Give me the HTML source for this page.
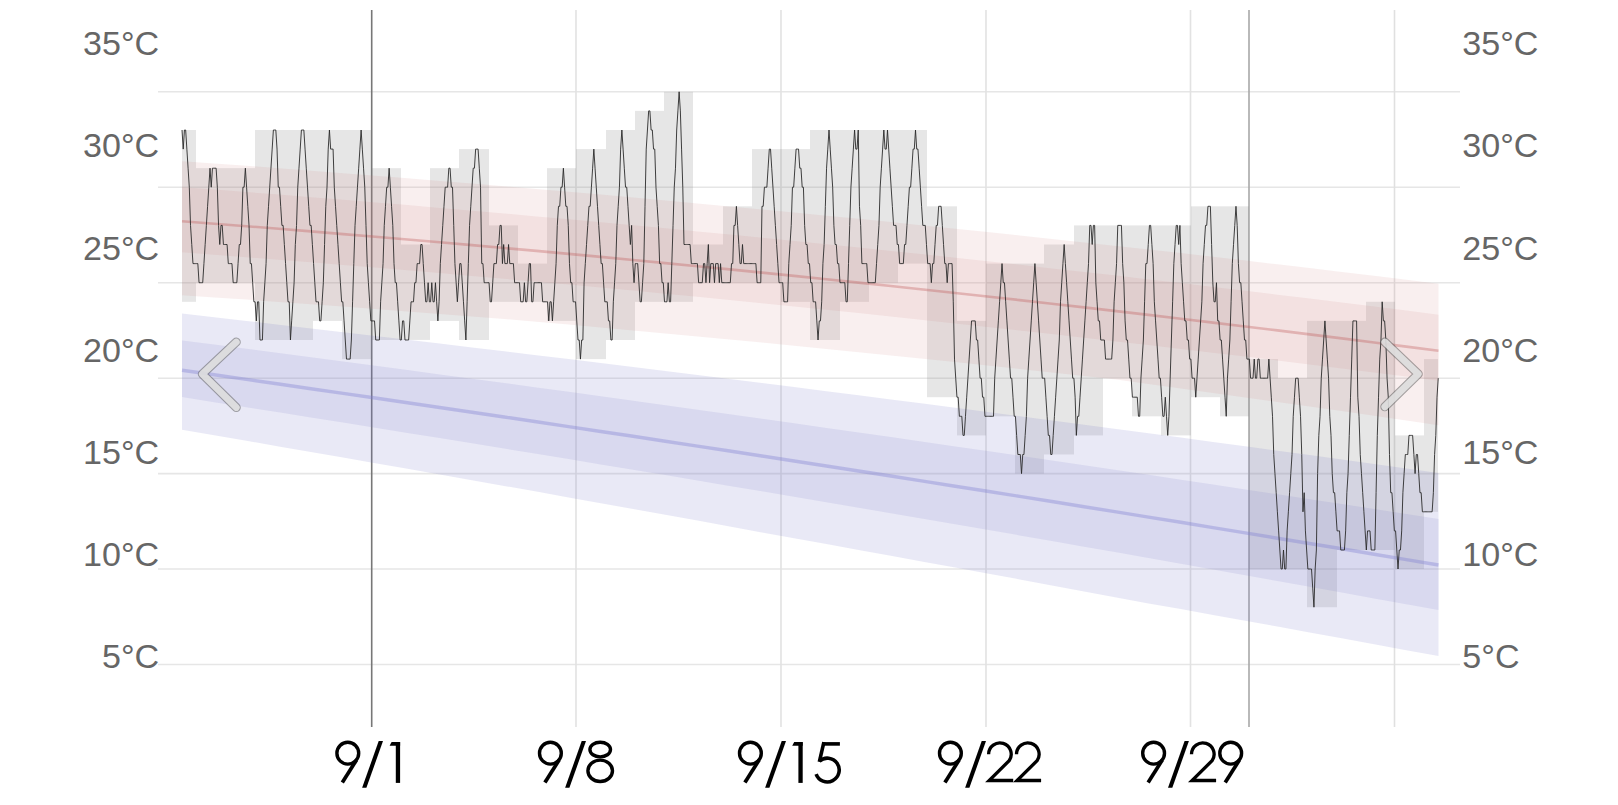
<!DOCTYPE html>
<html><head><meta charset="utf-8"><style>
html,body{margin:0;padding:0;background:#fff;width:1618px;height:805px;overflow:hidden}
svg{display:block}
.yl{font-family:"Liberation Sans",sans-serif;font-size:34.1px;fill:#666}
</style></head><body>
<svg width="1618" height="805" viewBox="0 0 1618 805">
<line x1="158" y1="91.8" x2="1460" y2="91.8" stroke="#e6e6e6" stroke-width="1.6"/>
<line x1="158" y1="187.2" x2="1460" y2="187.2" stroke="#e6e6e6" stroke-width="1.6"/>
<line x1="158" y1="282.7" x2="1460" y2="282.7" stroke="#e6e6e6" stroke-width="1.6"/>
<line x1="158" y1="378.2" x2="1460" y2="378.2" stroke="#e6e6e6" stroke-width="1.6"/>
<line x1="158" y1="473.6" x2="1460" y2="473.6" stroke="#e6e6e6" stroke-width="1.6"/>
<line x1="158" y1="569.0" x2="1460" y2="569.0" stroke="#e6e6e6" stroke-width="1.6"/>
<line x1="158" y1="664.5" x2="1460" y2="664.5" stroke="#e6e6e6" stroke-width="1.6"/>
<line x1="576" y1="10" x2="576" y2="727" stroke="#e2e2e2" stroke-width="1.6"/>
<line x1="781" y1="10" x2="781" y2="727" stroke="#e2e2e2" stroke-width="1.6"/>
<line x1="986" y1="10" x2="986" y2="727" stroke="#e2e2e2" stroke-width="1.6"/>
<line x1="1190.5" y1="10" x2="1190.5" y2="727" stroke="#e2e2e2" stroke-width="1.6"/>
<line x1="1394.5" y1="10" x2="1394.5" y2="727" stroke="#e0e0e0" stroke-width="1.6"/>
<line x1="371.7" y1="10" x2="371.7" y2="727" stroke="#777" stroke-width="1.6"/>
<line x1="1249" y1="10" x2="1249" y2="727" stroke="#a8a8a8" stroke-width="1.6"/>
<rect x="182" y="130.0" width="14" height="171.8" fill="rgba(128,128,128,0.2)"/>
<rect x="196" y="168.2" width="29" height="114.5" fill="rgba(128,128,128,0.2)"/>
<rect x="225" y="168.2" width="30" height="114.5" fill="rgba(128,128,128,0.2)"/>
<rect x="255" y="130.0" width="29" height="210.0" fill="rgba(128,128,128,0.2)"/>
<rect x="284" y="130.0" width="29" height="210.0" fill="rgba(128,128,128,0.2)"/>
<rect x="313" y="130.0" width="29" height="190.9" fill="rgba(128,128,128,0.2)"/>
<rect x="342" y="130.0" width="30" height="229.1" fill="rgba(128,128,128,0.2)"/>
<rect x="372" y="168.2" width="29" height="171.8" fill="rgba(128,128,128,0.2)"/>
<rect x="401" y="244.5" width="29" height="95.4" fill="rgba(128,128,128,0.2)"/>
<rect x="430" y="168.2" width="29" height="152.7" fill="rgba(128,128,128,0.2)"/>
<rect x="459" y="149.1" width="30" height="190.9" fill="rgba(128,128,128,0.2)"/>
<rect x="489" y="225.4" width="29" height="76.4" fill="rgba(128,128,128,0.2)"/>
<rect x="518" y="263.6" width="29" height="38.2" fill="rgba(128,128,128,0.2)"/>
<rect x="547" y="168.2" width="29" height="152.7" fill="rgba(128,128,128,0.2)"/>
<rect x="576" y="149.1" width="30" height="210.0" fill="rgba(128,128,128,0.2)"/>
<rect x="606" y="130.0" width="29" height="210.0" fill="rgba(128,128,128,0.2)"/>
<rect x="635" y="110.9" width="29" height="190.9" fill="rgba(128,128,128,0.2)"/>
<rect x="664" y="91.8" width="29" height="210.0" fill="rgba(128,128,128,0.2)"/>
<rect x="693" y="244.5" width="30" height="38.2" fill="rgba(128,128,128,0.2)"/>
<rect x="723" y="206.3" width="29" height="76.4" fill="rgba(128,128,128,0.2)"/>
<rect x="752" y="149.1" width="29" height="133.6" fill="rgba(128,128,128,0.2)"/>
<rect x="781" y="149.1" width="29" height="152.7" fill="rgba(128,128,128,0.2)"/>
<rect x="810" y="130.0" width="30" height="210.0" fill="rgba(128,128,128,0.2)"/>
<rect x="840" y="130.0" width="29" height="171.8" fill="rgba(128,128,128,0.2)"/>
<rect x="869" y="130.0" width="29" height="152.7" fill="rgba(128,128,128,0.2)"/>
<rect x="898" y="130.0" width="29" height="133.6" fill="rgba(128,128,128,0.2)"/>
<rect x="927" y="206.3" width="30" height="190.9" fill="rgba(128,128,128,0.2)"/>
<rect x="957" y="320.9" width="29" height="114.5" fill="rgba(128,128,128,0.2)"/>
<rect x="986" y="263.6" width="29" height="152.7" fill="rgba(128,128,128,0.2)"/>
<rect x="1015" y="263.6" width="29" height="210.0" fill="rgba(128,128,128,0.2)"/>
<rect x="1044" y="244.5" width="30" height="210.0" fill="rgba(128,128,128,0.2)"/>
<rect x="1074" y="225.4" width="29" height="210.0" fill="rgba(128,128,128,0.2)"/>
<rect x="1103" y="225.4" width="29" height="152.7" fill="rgba(128,128,128,0.2)"/>
<rect x="1132" y="225.4" width="29" height="190.9" fill="rgba(128,128,128,0.2)"/>
<rect x="1161" y="225.4" width="30" height="210.0" fill="rgba(128,128,128,0.2)"/>
<rect x="1191" y="206.3" width="29" height="190.9" fill="rgba(128,128,128,0.2)"/>
<rect x="1220" y="206.3" width="29" height="210.0" fill="rgba(128,128,128,0.2)"/>
<rect x="1249" y="359.1" width="29" height="210.0" fill="rgba(128,128,128,0.2)"/>
<rect x="1278" y="378.2" width="29" height="190.9" fill="rgba(128,128,128,0.2)"/>
<rect x="1307" y="320.9" width="30" height="286.3" fill="rgba(128,128,128,0.2)"/>
<rect x="1337" y="320.9" width="29" height="229.1" fill="rgba(128,128,128,0.2)"/>
<rect x="1366" y="301.8" width="29" height="248.2" fill="rgba(128,128,128,0.2)"/>
<rect x="1395" y="435.4" width="29" height="133.6" fill="rgba(128,128,128,0.2)"/>
<rect x="1424" y="359.1" width="14" height="152.7" fill="rgba(128,128,128,0.2)"/>
<polygon points="182.0,313.6 214.2,317.3 246.4,321.0 278.7,324.7 310.9,328.5 343.1,332.2 375.3,336.0 407.5,339.8 439.7,343.6 472.0,347.5 504.2,351.3 536.4,355.2 568.6,359.1 600.8,363.1 633.1,367.0 665.3,371.0 697.5,375.0 729.7,379.0 761.9,383.0 794.1,387.1 826.4,391.2 858.6,395.3 890.8,399.4 923.0,403.6 955.2,407.8 987.4,412.0 1019.7,416.2 1051.9,420.4 1084.1,424.7 1116.3,429.0 1148.5,433.3 1180.8,437.6 1213.0,441.9 1245.2,446.3 1277.4,450.7 1309.6,455.1 1341.8,459.6 1374.1,464.0 1406.3,468.5 1438.5,473.0 1438.5,656.1 1406.3,650.2 1374.1,644.2 1341.8,638.3 1309.6,632.4 1277.4,626.6 1245.2,620.7 1213.0,614.9 1180.8,609.1 1148.5,603.4 1116.3,597.4 1084.1,591.4 1051.9,585.4 1019.7,579.4 987.4,573.5 955.2,567.6 923.0,561.7 890.8,555.8 858.6,550.0 826.4,544.1 794.1,538.3 761.9,532.4 729.7,526.5 697.5,520.6 665.3,514.8 633.1,509.0 600.8,503.2 568.6,497.4 536.4,491.6 504.2,485.9 472.0,480.2 439.7,474.5 407.5,468.8 375.3,463.2 343.1,457.5 310.9,451.9 278.7,446.4 246.4,440.8 214.2,435.3 182.0,429.7" fill="rgba(120,120,200,0.16)"/>
<polygon points="182.0,340.4 214.2,344.6 246.4,348.8 278.7,353.0 310.9,357.2 343.1,361.5 375.3,365.7 407.5,370.0 439.7,374.4 472.0,378.7 504.2,383.1 536.4,387.4 568.6,391.8 600.8,396.3 633.1,400.7 665.3,405.2 697.5,409.7 729.7,414.2 761.9,418.7 794.1,423.3 826.4,427.9 858.6,432.5 890.8,437.1 923.0,441.7 955.2,446.4 987.4,451.1 1019.7,455.8 1051.9,460.5 1084.1,465.3 1116.3,470.0 1148.5,474.8 1180.8,479.7 1213.0,484.5 1245.2,489.4 1277.4,494.3 1309.6,499.2 1341.8,504.1 1374.1,509.0 1406.3,514.0 1438.5,519.0 1438.5,610.1 1406.3,604.2 1374.1,598.4 1341.8,592.6 1309.6,586.7 1277.4,581.0 1245.2,575.2 1213.0,569.4 1180.8,563.7 1148.5,558.0 1116.3,552.3 1084.1,546.7 1051.9,541.0 1019.7,535.4 987.4,529.8 955.2,524.3 923.0,518.7 890.8,513.2 858.6,507.7 826.4,502.2 794.1,496.7 761.9,491.3 729.7,485.9 697.5,480.5 665.3,475.1 633.1,469.8 600.8,464.4 568.6,459.1 536.4,453.8 504.2,448.6 472.0,443.3 439.7,438.1 407.5,432.9 375.3,427.7 343.1,422.6 310.9,417.5 278.7,412.3 246.4,407.3 214.2,402.2 182.0,397.1" fill="rgba(120,120,200,0.14)"/>
<path d="M182.0,370.2 L214.2,374.8 L246.4,379.4 L278.7,384.0 L310.9,388.7 L343.1,393.4 L375.3,398.0 L407.5,402.7 L439.7,407.5 L472.0,412.2 L504.2,417.0 L536.4,421.8 L568.6,426.6 L600.8,431.5 L633.1,436.3 L665.3,441.2 L697.5,446.1 L729.7,451.0 L761.9,456.0 L794.1,461.0 L826.4,466.0 L858.6,471.0 L890.8,476.0 L923.0,481.1 L955.2,486.2 L987.4,491.3 L1019.7,496.4 L1051.9,501.5 L1084.1,506.7 L1116.3,511.9 L1148.5,517.1 L1180.8,522.3 L1213.0,527.6 L1245.2,532.9 L1277.4,538.2 L1309.6,543.5 L1341.8,548.8 L1374.1,554.2 L1406.3,559.6 L1438.5,565.0" fill="none" stroke="rgba(130,130,210,0.38)" stroke-width="3.4"/>
<polygon points="182.0,161.2 214.2,163.5 246.4,165.8 278.7,168.2 310.9,170.7 343.1,173.2 375.3,175.7 407.5,178.3 439.7,180.9 472.0,183.5 504.2,186.2 536.4,189.0 568.6,191.8 600.8,194.6 633.1,197.5 665.3,200.4 697.5,203.4 729.7,206.4 761.9,209.4 794.1,212.5 826.4,215.7 858.6,218.8 890.8,222.1 923.0,225.4 955.2,228.7 987.4,232.0 1019.7,235.4 1051.9,238.9 1084.1,242.4 1116.3,245.9 1148.5,249.5 1180.8,253.1 1213.0,256.8 1245.2,260.5 1277.4,264.3 1309.6,268.1 1341.8,271.9 1374.1,275.8 1406.3,279.8 1438.5,283.8 1438.5,425.3 1406.3,420.5 1374.1,415.8 1341.8,411.1 1309.6,406.5 1277.4,401.9 1245.2,397.4 1213.0,392.9 1180.8,388.4 1148.5,384.0 1116.3,379.6 1084.1,376.0 1051.9,372.5 1019.7,369.0 987.4,365.5 955.2,362.1 923.0,358.8 890.8,355.4 858.6,352.2 826.4,348.9 794.1,345.7 761.9,342.6 729.7,339.5 697.5,336.4 665.3,333.4 633.1,330.4 600.8,327.5 568.6,324.6 536.4,321.8 504.2,319.0 472.0,316.4 439.7,313.9 407.5,311.4 375.3,308.9 343.1,306.5 310.9,304.2 278.7,301.9 246.4,299.6 214.2,297.4 182.0,295.2" fill="rgba(205,135,135,0.13)"/>
<polygon points="182.0,187.2 214.2,189.6 246.4,192.1 278.7,194.6 310.9,197.2 343.1,199.8 375.3,202.5 407.5,205.1 439.7,207.9 472.0,210.7 504.2,213.5 536.4,216.4 568.6,219.3 600.8,222.3 633.1,225.3 665.3,228.3 697.5,231.4 729.7,234.5 761.9,237.7 794.1,241.0 826.4,244.2 858.6,247.5 890.8,250.9 923.0,254.3 955.2,257.7 987.4,261.2 1019.7,264.8 1051.9,268.4 1084.1,272.0 1116.3,275.6 1148.5,279.4 1180.8,283.1 1213.0,286.9 1245.2,290.8 1277.4,294.7 1309.6,298.6 1341.8,302.6 1374.1,306.6 1406.3,310.6 1438.5,314.8 1438.5,380.8 1406.3,376.6 1374.1,372.5 1341.8,368.5 1309.6,364.5 1277.4,360.5 1245.2,356.6 1213.0,352.7 1180.8,348.9 1148.5,345.1 1116.3,341.4 1084.1,337.7 1051.9,334.0 1019.7,330.4 987.4,326.9 955.2,323.4 923.0,319.9 890.8,316.5 858.6,313.1 826.4,309.7 794.1,306.4 761.9,303.2 729.7,300.0 697.5,296.8 665.3,293.7 633.1,290.6 600.8,287.6 568.6,284.6 536.4,281.7 504.2,278.8 472.0,275.9 439.7,273.1 407.5,270.3 375.3,267.6 343.1,264.9 310.9,262.3 278.7,259.7 246.4,257.2 214.2,254.7 182.0,252.2" fill="rgba(205,135,135,0.13)"/>
<path d="M182.0,221.2 L214.2,223.7 L246.4,226.2 L278.7,228.8 L310.9,231.4 L343.1,234.1 L375.3,236.8 L407.5,239.5 L439.7,242.3 L472.0,245.1 L504.2,248.0 L536.4,250.9 L568.6,253.9 L600.8,256.9 L633.1,260.0 L665.3,263.1 L697.5,266.2 L729.7,269.4 L761.9,272.6 L794.1,275.9 L826.4,279.2 L858.6,282.6 L890.8,286.0 L923.0,289.5 L955.2,293.0 L987.4,296.5 L1019.7,300.1 L1051.9,303.7 L1084.1,307.4 L1116.3,311.1 L1148.5,314.9 L1180.8,318.7 L1213.0,322.6 L1245.2,326.5 L1277.4,330.4 L1309.6,334.4 L1341.8,338.4 L1374.1,342.5 L1406.3,346.6 L1438.5,350.8" fill="none" stroke="rgba(195,95,95,0.36)" stroke-width="2.6"/>
<path d="M182.00,130.0 L183.22,149.1 L184.44,130.0 L185.66,130.0 L186.87,149.1 L188.09,168.2 L189.31,187.2 L190.53,225.4 L191.75,244.5 L192.97,263.6 L194.18,263.6 L195.40,263.6 L196.62,263.6 L197.84,263.6 L199.06,282.7 L200.28,282.7 L201.50,282.7 L202.71,282.7 L203.93,263.6 L205.15,244.5 L206.37,225.4 L207.59,206.3 L208.81,187.2 L210.02,168.2 L211.24,187.2 L212.46,168.2 L213.68,168.2 L214.90,168.2 L216.12,168.2 L217.34,187.2 L218.55,225.4 L219.77,244.5 L220.99,225.4 L222.21,225.4 L223.43,244.5 L224.65,244.5 L225.86,244.5 L227.08,244.5 L228.30,263.6 L229.52,263.6 L230.74,263.6 L231.96,263.6 L233.18,282.7 L234.39,282.7 L235.61,282.7 L236.83,282.7 L238.05,263.6 L239.27,244.5 L240.49,244.5 L241.70,225.4 L242.92,187.2 L244.14,187.2 L245.36,168.2 L246.58,187.2 L247.80,206.3 L249.02,225.4 L250.23,263.6 L251.45,263.6 L252.67,282.7 L253.89,301.8 L255.11,301.8 L256.33,320.9 L257.54,301.8 L258.76,301.8 L259.98,340.0 L261.20,340.0 L262.42,340.0 L263.64,301.8 L264.86,282.7 L266.07,263.6 L267.29,225.4 L268.51,206.3 L269.73,187.2 L270.95,168.2 L272.17,149.1 L273.38,130.0 L274.60,130.0 L275.82,130.0 L277.04,149.1 L278.26,187.2 L279.48,187.2 L280.70,206.3 L281.91,225.4 L283.13,225.4 L284.35,244.5 L285.57,263.6 L286.79,282.7 L288.01,301.8 L289.22,301.8 L290.44,340.0 L291.66,320.9 L292.88,301.8 L294.10,282.7 L295.32,244.5 L296.54,225.4 L297.75,187.2 L298.97,168.2 L300.19,149.1 L301.41,130.0 L302.63,130.0 L303.85,130.0 L305.06,149.1 L306.28,168.2 L307.50,187.2 L308.72,206.3 L309.94,225.4 L311.16,225.4 L312.38,244.5 L313.59,263.6 L314.81,282.7 L316.03,301.8 L317.25,301.8 L318.47,301.8 L319.69,320.9 L320.90,320.9 L322.12,301.8 L323.34,282.7 L324.56,244.5 L325.78,206.3 L327.00,187.2 L328.21,149.1 L329.43,130.0 L330.65,149.1 L331.87,149.1 L333.09,149.1 L334.31,187.2 L335.53,206.3 L336.74,225.4 L337.96,244.5 L339.18,263.6 L340.40,282.7 L341.62,301.8 L342.84,301.8 L344.05,320.9 L345.27,340.0 L346.49,359.1 L347.71,359.1 L348.93,359.1 L350.15,359.1 L351.37,340.0 L352.58,301.8 L353.80,263.6 L355.02,225.4 L356.24,206.3 L357.46,187.2 L358.68,168.2 L359.89,149.1 L361.11,130.0 L362.33,149.1 L363.55,168.2 L364.77,187.2 L365.99,225.4 L367.21,263.6 L368.42,282.7 L369.64,301.8 L370.86,320.9 L372.08,320.9 L373.30,320.9 L374.52,320.9 L375.73,340.0 L376.95,340.0 L378.17,340.0 L379.39,340.0 L380.61,301.8 L381.83,282.7 L383.05,263.6 L384.26,225.4 L385.48,206.3 L386.70,187.2 L387.92,187.2 L389.14,168.2 L390.36,187.2 L391.57,206.3 L392.79,225.4 L394.01,263.6 L395.23,282.7 L396.45,282.7 L397.67,301.8 L398.89,320.9 L400.10,340.0 L401.32,340.0 L402.54,320.9 L403.76,320.9 L404.98,340.0 L406.20,340.0 L407.41,340.0 L408.63,340.0 L409.85,320.9 L411.07,301.8 L412.29,301.8 L413.51,301.8 L414.73,282.7 L415.94,282.7 L417.16,263.6 L418.38,263.6 L419.60,263.6 L420.82,244.5 L422.04,244.5 L423.25,263.6 L424.47,282.7 L425.69,301.8 L426.91,301.8 L428.13,282.7 L429.35,301.8 L430.57,301.8 L431.78,282.7 L433.00,301.8 L434.22,301.8 L435.44,282.7 L436.66,301.8 L437.88,320.9 L439.09,301.8 L440.31,263.6 L441.53,244.5 L442.75,225.4 L443.97,206.3 L445.19,187.2 L446.41,187.2 L447.62,187.2 L448.84,168.2 L450.06,168.2 L451.28,187.2 L452.50,187.2 L453.72,225.4 L454.93,263.6 L456.15,282.7 L457.37,301.8 L458.59,282.7 L459.81,263.6 L461.03,263.6 L462.25,282.7 L463.46,301.8 L464.68,320.9 L465.90,340.0 L467.12,301.8 L468.34,263.6 L469.56,225.4 L470.77,206.3 L471.99,187.2 L473.21,168.2 L474.43,168.2 L475.65,149.1 L476.87,149.1 L478.09,149.1 L479.30,168.2 L480.52,187.2 L481.74,263.6 L482.96,263.6 L484.18,282.7 L485.40,282.7 L486.61,282.7 L487.83,282.7 L489.05,282.7 L490.27,301.8 L491.49,301.8 L492.71,282.7 L493.93,263.6 L495.14,263.6 L496.36,263.6 L497.58,244.5 L498.80,244.5 L500.02,225.4 L501.24,225.4 L502.45,263.6 L503.67,244.5 L504.89,263.6 L506.11,263.6 L507.33,263.6 L508.55,244.5 L509.77,263.6 L510.98,263.6 L512.20,263.6 L513.42,263.6 L514.64,282.7 L515.86,282.7 L517.08,282.7 L518.29,282.7 L519.51,282.7 L520.73,301.8 L521.95,301.8 L523.17,301.8 L524.39,282.7 L525.61,301.8 L526.82,301.8 L528.04,282.7 L529.26,263.6 L530.48,263.6 L531.70,301.8 L532.92,301.8 L534.13,282.7 L535.35,282.7 L536.57,282.7 L537.79,282.7 L539.01,282.7 L540.23,282.7 L541.45,282.7 L542.66,301.8 L543.88,301.8 L545.10,301.8 L546.32,301.8 L547.54,301.8 L548.76,320.9 L549.97,301.8 L551.19,301.8 L552.41,320.9 L553.63,301.8 L554.85,282.7 L556.07,263.6 L557.29,225.4 L558.50,206.3 L559.72,206.3 L560.94,187.2 L562.16,187.2 L563.38,168.2 L564.60,187.2 L565.81,206.3 L567.03,206.3 L568.25,225.4 L569.47,263.6 L570.69,282.7 L571.91,282.7 L573.13,301.8 L574.34,301.8 L575.56,301.8 L576.78,320.9 L578.00,340.0 L579.22,340.0 L580.44,359.1 L581.65,340.0 L582.87,340.0 L584.09,282.7 L585.31,263.6 L586.53,244.5 L587.75,225.4 L588.97,206.3 L590.18,206.3 L591.40,187.2 L592.62,168.2 L593.84,149.1 L595.06,168.2 L596.28,187.2 L597.49,206.3 L598.71,225.4 L599.93,244.5 L601.15,263.6 L602.37,263.6 L603.59,282.7 L604.81,301.8 L606.02,301.8 L607.24,301.8 L608.46,320.9 L609.68,320.9 L610.90,340.0 L612.12,340.0 L613.33,301.8 L614.55,282.7 L615.77,263.6 L616.99,225.4 L618.21,206.3 L619.43,187.2 L620.64,149.1 L621.86,130.0 L623.08,149.1 L624.30,168.2 L625.52,187.2 L626.74,187.2 L627.96,206.3 L629.17,225.4 L630.39,244.5 L631.61,225.4 L632.83,263.6 L634.05,282.7 L635.27,263.6 L636.48,263.6 L637.70,263.6 L638.92,282.7 L640.14,301.8 L641.36,301.8 L642.58,282.7 L643.80,263.6 L645.01,206.3 L646.23,149.1 L647.45,130.0 L648.67,110.9 L649.89,110.9 L651.11,130.0 L652.32,130.0 L653.54,149.1 L654.76,149.1 L655.98,187.2 L657.20,206.3 L658.42,225.4 L659.64,263.6 L660.85,263.6 L662.07,282.7 L663.29,282.7 L664.51,301.8 L665.73,301.8 L666.95,301.8 L668.16,282.7 L669.38,301.8 L670.60,301.8 L671.82,263.6 L673.04,225.4 L674.26,187.2 L675.48,168.2 L676.69,130.0 L677.91,110.9 L679.13,91.8 L680.35,110.9 L681.57,149.1 L682.79,187.2 L684.00,244.5 L685.22,244.5 L686.44,244.5 L687.66,244.5 L688.88,244.5 L690.10,244.5 L691.32,263.6 L692.53,263.6 L693.75,263.6 L694.97,263.6 L696.19,263.6 L697.41,263.6 L698.63,282.7 L699.84,282.7 L701.06,282.7 L702.28,282.7 L703.50,263.6 L704.72,263.6 L705.94,282.7 L707.16,263.6 L708.37,244.5 L709.59,282.7 L710.81,263.6 L712.03,263.6 L713.25,263.6 L714.47,282.7 L715.68,263.6 L716.90,263.6 L718.12,263.6 L719.34,282.7 L720.56,263.6 L721.78,282.7 L723.00,282.7 L724.21,282.7 L725.43,282.7 L726.65,282.7 L727.87,282.7 L729.09,282.7 L730.31,282.7 L731.52,263.6 L732.74,263.6 L733.96,225.4 L735.18,225.4 L736.40,206.3 L737.62,225.4 L738.84,244.5 L740.05,263.6 L741.27,263.6 L742.49,244.5 L743.71,263.6 L744.93,263.6 L746.15,263.6 L747.36,263.6 L748.58,263.6 L749.80,263.6 L751.02,263.6 L752.24,263.6 L753.46,263.6 L754.68,263.6 L755.89,263.6 L757.11,282.7 L758.33,282.7 L759.55,282.7 L760.77,282.7 L761.99,206.3 L763.20,206.3 L764.42,187.2 L765.64,187.2 L766.86,187.2 L768.08,168.2 L769.30,149.1 L770.52,149.1 L771.73,168.2 L772.95,187.2 L774.17,206.3 L775.39,225.4 L776.61,244.5 L777.83,263.6 L779.04,282.7 L780.26,282.7 L781.48,282.7 L782.70,282.7 L783.92,301.8 L785.14,301.8 L786.36,301.8 L787.57,301.8 L788.79,263.6 L790.01,244.5 L791.23,225.4 L792.45,187.2 L793.67,187.2 L794.88,168.2 L796.10,149.1 L797.32,149.1 L798.54,149.1 L799.76,168.2 L800.98,168.2 L802.20,187.2 L803.41,187.2 L804.63,225.4 L805.85,244.5 L807.07,244.5 L808.29,263.6 L809.51,263.6 L810.72,282.7 L811.94,282.7 L813.16,301.8 L814.38,301.8 L815.60,301.8 L816.82,320.9 L818.04,340.0 L819.25,320.9 L820.47,320.9 L821.69,301.8 L822.91,263.6 L824.13,244.5 L825.35,206.3 L826.56,168.2 L827.78,149.1 L829.00,130.0 L830.22,149.1 L831.44,168.2 L832.66,187.2 L833.88,225.4 L835.09,244.5 L836.31,244.5 L837.53,263.6 L838.75,263.6 L839.97,282.7 L841.19,282.7 L842.40,282.7 L843.62,282.7 L844.84,282.7 L846.06,301.8 L847.28,301.8 L848.50,263.6 L849.72,225.4 L850.93,187.2 L852.15,168.2 L853.37,149.1 L854.59,130.0 L855.81,149.1 L857.03,149.1 L858.24,130.0 L859.46,206.3 L860.68,225.4 L861.90,263.6 L863.12,263.6 L864.34,263.6 L865.56,263.6 L866.77,263.6 L867.99,282.7 L869.21,282.7 L870.43,282.7 L871.65,282.7 L872.87,282.7 L874.08,282.7 L875.30,282.7 L876.52,263.6 L877.74,244.5 L878.96,225.4 L880.18,187.2 L881.40,168.2 L882.61,149.1 L883.83,130.0 L885.05,149.1 L886.27,149.1 L887.49,130.0 L888.71,149.1 L889.92,168.2 L891.14,187.2 L892.36,206.3 L893.58,225.4 L894.80,225.4 L896.02,225.4 L897.24,244.5 L898.45,244.5 L899.67,263.6 L900.89,263.6 L902.11,263.6 L903.33,263.6 L904.55,244.5 L905.76,244.5 L906.98,225.4 L908.20,206.3 L909.42,187.2 L910.64,187.2 L911.86,168.2 L913.07,149.1 L914.29,149.1 L915.51,130.0 L916.73,149.1 L917.95,149.1 L919.17,168.2 L920.39,187.2 L921.60,206.3 L922.82,225.4 L924.04,225.4 L925.26,225.4 L926.48,244.5 L927.70,263.6 L928.91,263.6 L930.13,263.6 L931.35,282.7 L932.57,263.6 L933.79,263.6 L935.01,244.5 L936.23,225.4 L937.44,225.4 L938.66,206.3 L939.88,206.3 L941.10,206.3 L942.32,225.4 L943.54,244.5 L944.75,263.6 L945.97,263.6 L947.19,282.7 L948.41,263.6 L949.63,263.6 L950.85,263.6 L952.07,263.6 L953.28,301.8 L954.50,359.1 L955.72,378.2 L956.94,397.2 L958.16,397.2 L959.38,416.3 L960.59,416.3 L961.81,416.3 L963.03,435.4 L964.25,435.4 L965.47,416.3 L966.69,397.2 L967.91,378.2 L969.12,359.1 L970.34,340.0 L971.56,320.9 L972.78,320.9 L974.00,320.9 L975.22,320.9 L976.43,340.0 L977.65,340.0 L978.87,359.1 L980.09,378.2 L981.31,378.2 L982.53,397.2 L983.75,397.2 L984.96,416.3 L986.18,416.3 L987.40,416.3 L988.62,416.3 L989.84,416.3 L991.06,416.3 L992.27,416.3 L993.49,416.3 L994.71,378.2 L995.93,359.1 L997.15,340.0 L998.37,320.9 L999.59,301.8 L1000.80,282.7 L1002.02,263.6 L1003.24,282.7 L1004.46,282.7 L1005.68,301.8 L1006.90,320.9 L1008.11,340.0 L1009.33,359.1 L1010.55,378.2 L1011.77,378.2 L1012.99,397.2 L1014.21,416.3 L1015.43,416.3 L1016.64,435.4 L1017.86,454.5 L1019.08,454.5 L1020.30,454.5 L1021.52,473.6 L1022.74,454.5 L1023.95,454.5 L1025.17,435.4 L1026.39,416.3 L1027.61,378.2 L1028.83,359.1 L1030.05,340.0 L1031.27,320.9 L1032.48,301.8 L1033.70,282.7 L1034.92,263.6 L1036.14,282.7 L1037.36,301.8 L1038.58,320.9 L1039.79,340.0 L1041.01,359.1 L1042.23,378.2 L1043.45,378.2 L1044.67,378.2 L1045.89,397.2 L1047.11,416.3 L1048.32,435.4 L1049.54,435.4 L1050.76,454.5 L1051.98,454.5 L1053.20,435.4 L1054.42,416.3 L1055.63,397.2 L1056.85,378.2 L1058.07,359.1 L1059.29,340.0 L1060.51,301.8 L1061.73,282.7 L1062.95,263.6 L1064.16,244.5 L1065.38,263.6 L1066.60,282.7 L1067.82,301.8 L1069.04,320.9 L1070.26,340.0 L1071.47,359.1 L1072.69,378.2 L1073.91,378.2 L1075.13,397.2 L1076.35,435.4 L1077.57,416.3 L1078.79,416.3 L1080.00,397.2 L1081.22,378.2 L1082.44,359.1 L1083.66,340.0 L1084.88,320.9 L1086.10,301.8 L1087.31,282.7 L1088.53,263.6 L1089.75,225.4 L1090.97,225.4 L1092.19,244.5 L1093.41,225.4 L1094.63,225.4 L1095.84,282.7 L1097.06,301.8 L1098.28,320.9 L1099.50,320.9 L1100.72,340.0 L1101.94,340.0 L1103.15,340.0 L1104.37,340.0 L1105.59,359.1 L1106.81,359.1 L1108.03,359.1 L1109.25,359.1 L1110.47,359.1 L1111.68,359.1 L1112.90,340.0 L1114.12,301.8 L1115.34,282.7 L1116.56,263.6 L1117.78,225.4 L1118.99,225.4 L1120.21,225.4 L1121.43,225.4 L1122.65,263.6 L1123.87,282.7 L1125.09,320.9 L1126.31,340.0 L1127.52,340.0 L1128.74,359.1 L1129.96,378.2 L1131.18,378.2 L1132.40,397.2 L1133.62,397.2 L1134.83,397.2 L1136.05,397.2 L1137.27,397.2 L1138.49,416.3 L1139.71,416.3 L1140.93,378.2 L1142.15,359.1 L1143.36,340.0 L1144.58,301.8 L1145.80,263.6 L1147.02,263.6 L1148.24,244.5 L1149.46,225.4 L1150.67,225.4 L1151.89,244.5 L1153.11,263.6 L1154.33,301.8 L1155.55,320.9 L1156.77,340.0 L1157.99,359.1 L1159.20,378.2 L1160.42,378.2 L1161.64,397.2 L1162.86,416.3 L1164.08,416.3 L1165.30,397.2 L1166.51,416.3 L1167.73,435.4 L1168.95,416.3 L1170.17,378.2 L1171.39,340.0 L1172.61,301.8 L1173.83,263.6 L1175.04,244.5 L1176.26,225.4 L1177.48,225.4 L1178.70,244.5 L1179.92,225.4 L1181.14,263.6 L1182.35,282.7 L1183.57,301.8 L1184.79,320.9 L1186.01,320.9 L1187.23,340.0 L1188.45,340.0 L1189.67,359.1 L1190.88,359.1 L1192.10,378.2 L1193.32,378.2 L1194.54,378.2 L1195.76,397.2 L1196.98,378.2 L1198.19,359.1 L1199.41,340.0 L1200.63,320.9 L1201.85,301.8 L1203.07,263.6 L1204.29,244.5 L1205.50,225.4 L1206.72,225.4 L1207.94,206.3 L1209.16,206.3 L1210.38,206.3 L1211.60,244.5 L1212.82,282.7 L1214.03,301.8 L1215.25,301.8 L1216.47,282.7 L1217.69,320.9 L1218.91,320.9 L1220.13,340.0 L1221.34,340.0 L1222.56,359.1 L1223.78,378.2 L1225.00,397.2 L1226.22,416.3 L1227.44,378.2 L1228.66,359.1 L1229.87,340.0 L1231.09,301.8 L1232.31,263.6 L1233.53,244.5 L1234.75,225.4 L1235.97,206.3 L1237.18,225.4 L1238.40,263.6 L1239.62,282.7 L1240.84,282.7 L1242.06,301.8 L1243.28,320.9 L1244.50,340.0 L1245.71,340.0 L1246.93,359.1 L1248.15,359.1 L1249.37,359.1 L1250.59,378.2 L1251.81,378.2 L1253.02,378.2 L1254.24,359.1 L1255.46,378.2 L1256.68,378.2 L1257.90,359.1 L1259.12,359.1 L1260.34,378.2 L1261.55,378.2 L1262.77,378.2 L1263.99,378.2 L1265.21,378.2 L1266.43,378.2 L1267.65,378.2 L1268.86,359.1 L1270.08,378.2 L1271.30,397.2 L1272.52,416.3 L1273.74,454.5 L1274.96,473.6 L1276.18,492.7 L1277.39,511.8 L1278.61,530.9 L1279.83,550.0 L1281.05,569.0 L1282.27,569.0 L1283.49,550.0 L1284.70,569.0 L1285.92,569.0 L1287.14,530.9 L1288.36,511.8 L1289.58,492.7 L1290.80,473.6 L1292.02,454.5 L1293.23,416.3 L1294.45,397.2 L1295.67,378.2 L1296.89,378.2 L1298.11,378.2 L1299.33,397.2 L1300.54,416.3 L1301.76,454.5 L1302.98,511.8 L1304.20,492.7 L1305.42,530.9 L1306.64,550.0 L1307.86,569.0 L1309.07,569.0 L1310.29,569.0 L1311.51,569.0 L1312.73,588.1 L1313.95,607.2 L1315.17,569.0 L1316.38,550.0 L1317.60,473.6 L1318.82,435.4 L1320.04,416.3 L1321.26,378.2 L1322.48,359.1 L1323.70,340.0 L1324.91,320.9 L1326.13,340.0 L1327.35,359.1 L1328.57,378.2 L1329.79,416.3 L1331.01,435.4 L1332.22,473.6 L1333.44,492.7 L1334.66,492.7 L1335.88,511.8 L1337.10,530.9 L1338.32,530.9 L1339.54,530.9 L1340.75,550.0 L1341.97,550.0 L1343.19,550.0 L1344.41,550.0 L1345.63,530.9 L1346.85,492.7 L1348.06,473.6 L1349.28,435.4 L1350.50,397.2 L1351.72,359.1 L1352.94,320.9 L1354.16,320.9 L1355.38,320.9 L1356.59,320.9 L1357.81,397.2 L1359.03,416.3 L1360.25,454.5 L1361.47,473.6 L1362.69,492.7 L1363.90,511.8 L1365.12,530.9 L1366.34,550.0 L1367.56,530.9 L1368.78,530.9 L1370.00,530.9 L1371.22,550.0 L1372.43,550.0 L1373.65,550.0 L1374.87,550.0 L1376.09,492.7 L1377.31,435.4 L1378.53,397.2 L1379.74,359.1 L1380.96,340.0 L1382.18,301.8 L1383.40,320.9 L1384.62,320.9 L1385.84,340.0 L1387.06,378.2 L1388.27,397.2 L1389.49,454.5 L1390.71,492.7 L1391.93,492.7 L1393.15,511.8 L1394.37,530.9 L1395.58,530.9 L1396.80,550.0 L1398.02,569.0 L1399.24,550.0 L1400.46,550.0 L1401.68,530.9 L1402.90,492.7 L1404.11,473.6 L1405.33,454.5 L1406.55,454.5 L1407.77,454.5 L1408.99,435.4 L1410.21,435.4 L1411.42,435.4 L1412.64,435.4 L1413.86,454.5 L1415.08,473.6 L1416.30,454.5 L1417.52,454.5 L1418.74,473.6 L1419.95,492.7 L1421.17,492.7 L1422.39,511.8 L1423.61,511.8 L1424.83,511.8 L1426.05,511.8 L1427.26,511.8 L1428.48,511.8 L1429.70,511.8 L1430.92,511.8 L1432.14,511.8 L1433.36,492.7 L1434.58,454.5 L1435.79,435.4 L1437.01,397.2 L1438.23,378.2" fill="none" stroke="#2a2a2a" stroke-width="0.9"/>
<path d="M236.3,342 L202.3,374 L236.3,407.5" fill="none" stroke="rgba(95,95,95,0.55)" stroke-width="9.0" stroke-linecap="round" stroke-linejoin="round"/><path d="M236.3,342 L202.3,374 L236.3,407.5" fill="none" stroke="rgba(238,238,238,0.8)" stroke-width="6.8" stroke-linecap="round" stroke-linejoin="round"/>
<path d="M1384.8,342 L1418.3,374 L1384.8,406.8" fill="none" stroke="rgba(95,95,95,0.55)" stroke-width="9.0" stroke-linecap="round" stroke-linejoin="round"/><path d="M1384.8,342 L1418.3,374 L1384.8,406.8" fill="none" stroke="rgba(238,238,238,0.8)" stroke-width="6.8" stroke-linecap="round" stroke-linejoin="round"/>
<text x="159.2" y="55.2" text-anchor="end" class="yl">35°C</text>
<text x="1462.3" y="55.2" class="yl">35°C</text>
<text x="159.2" y="157.4" text-anchor="end" class="yl">30°C</text>
<text x="1462.3" y="157.4" class="yl">30°C</text>
<text x="159.2" y="259.6" text-anchor="end" class="yl">25°C</text>
<text x="1462.3" y="259.6" class="yl">25°C</text>
<text x="159.2" y="361.8" text-anchor="end" class="yl">20°C</text>
<text x="1462.3" y="361.8" class="yl">20°C</text>
<text x="159.2" y="464.0" text-anchor="end" class="yl">15°C</text>
<text x="1462.3" y="464.0" class="yl">15°C</text>
<text x="159.2" y="566.2" text-anchor="end" class="yl">10°C</text>
<text x="1462.3" y="566.2" class="yl">10°C</text>
<text x="159.2" y="668.4" text-anchor="end" class="yl">5°C</text>
<text x="1462.3" y="668.4" class="yl">5°C</text>
<circle cx="347.80" cy="753.2" r="10.9" fill="none" stroke="#000" stroke-width="3.4"/><path d="M342.30,782.5 L356.50,760.0" stroke="#000" stroke-width="3.7" fill="none"/>
<polygon points="362.10,787.8 366.40,787.8 383.00,741.1 378.70,741.1" fill="#000"/>
<polygon points="389.60,745.8 391.60,742.1 400.10,742.1 400.10,745.8" fill="#000"/><rect x="395.80" y="742.1" width="4.3" height="40.8" fill="#000"/>
<circle cx="550.40" cy="753.2" r="10.9" fill="none" stroke="#000" stroke-width="3.4"/><path d="M544.90,782.5 L559.10,760.0" stroke="#000" stroke-width="3.7" fill="none"/>
<polygon points="565.10,787.8 569.40,787.8 586.00,741.1 581.70,741.1" fill="#000"/>
<ellipse cx="600.20" cy="749.6" rx="10.3" ry="7.3" fill="none" stroke="#000" stroke-width="3.4"/><ellipse cx="600.20" cy="770.8" rx="12.3" ry="10.7" fill="none" stroke="#000" stroke-width="3.4"/>
<circle cx="750.40" cy="753.2" r="10.9" fill="none" stroke="#000" stroke-width="3.4"/><path d="M744.90,782.5 L759.10,760.0" stroke="#000" stroke-width="3.7" fill="none"/>
<polygon points="765.10,787.8 769.40,787.8 786.00,741.1 781.70,741.1" fill="#000"/>
<polygon points="792.20,745.8 794.20,742.1 802.70,742.1 802.70,745.8" fill="#000"/><rect x="798.40" y="742.1" width="4.3" height="40.8" fill="#000"/>
<rect x="822.10" y="742.1" width="17.8" height="3.6" fill="#000"/><path d="M823.90,742.1 L819.34,761.96" stroke="#000" stroke-width="3.6" fill="none"/><path d="M819.34,761.16 A11.9,11.9 0 1 1 816.12,774.07" stroke="#000" stroke-width="3.6" fill="none"/>
<circle cx="950.40" cy="753.2" r="10.9" fill="none" stroke="#000" stroke-width="3.4"/><path d="M944.90,782.5 L959.10,760.0" stroke="#000" stroke-width="3.7" fill="none"/>
<polygon points="965.10,787.8 969.40,787.8 986.00,741.1 981.70,741.1" fill="#000"/>
<path d="M988.60,754.2 A11.3,11.3 0 1 1 1009.16,760.68 L989.10,780.5 L1013.20,780.5" stroke="#000" stroke-width="3.3" fill="none" stroke-linejoin="miter" stroke-miterlimit="10"/>
<path d="M1016.50,754.2 A11.3,11.3 0 1 1 1037.06,760.68 L1017.00,780.5 L1041.10,780.5" stroke="#000" stroke-width="3.3" fill="none" stroke-linejoin="miter" stroke-miterlimit="10"/>
<circle cx="1153.60" cy="753.2" r="10.9" fill="none" stroke="#000" stroke-width="3.4"/><path d="M1148.10,782.5 L1162.30,760.0" stroke="#000" stroke-width="3.7" fill="none"/>
<polygon points="1168.00,787.8 1172.30,787.8 1188.90,741.1 1184.60,741.1" fill="#000"/>
<path d="M1191.50,754.2 A11.3,11.3 0 1 1 1212.06,760.68 L1192.00,780.5 L1216.10,780.5" stroke="#000" stroke-width="3.3" fill="none" stroke-linejoin="miter" stroke-miterlimit="10"/>
<circle cx="1230.70" cy="753.2" r="10.9" fill="none" stroke="#000" stroke-width="3.4"/><path d="M1225.20,782.5 L1239.40,760.0" stroke="#000" stroke-width="3.7" fill="none"/>
</svg>
</body></html>
